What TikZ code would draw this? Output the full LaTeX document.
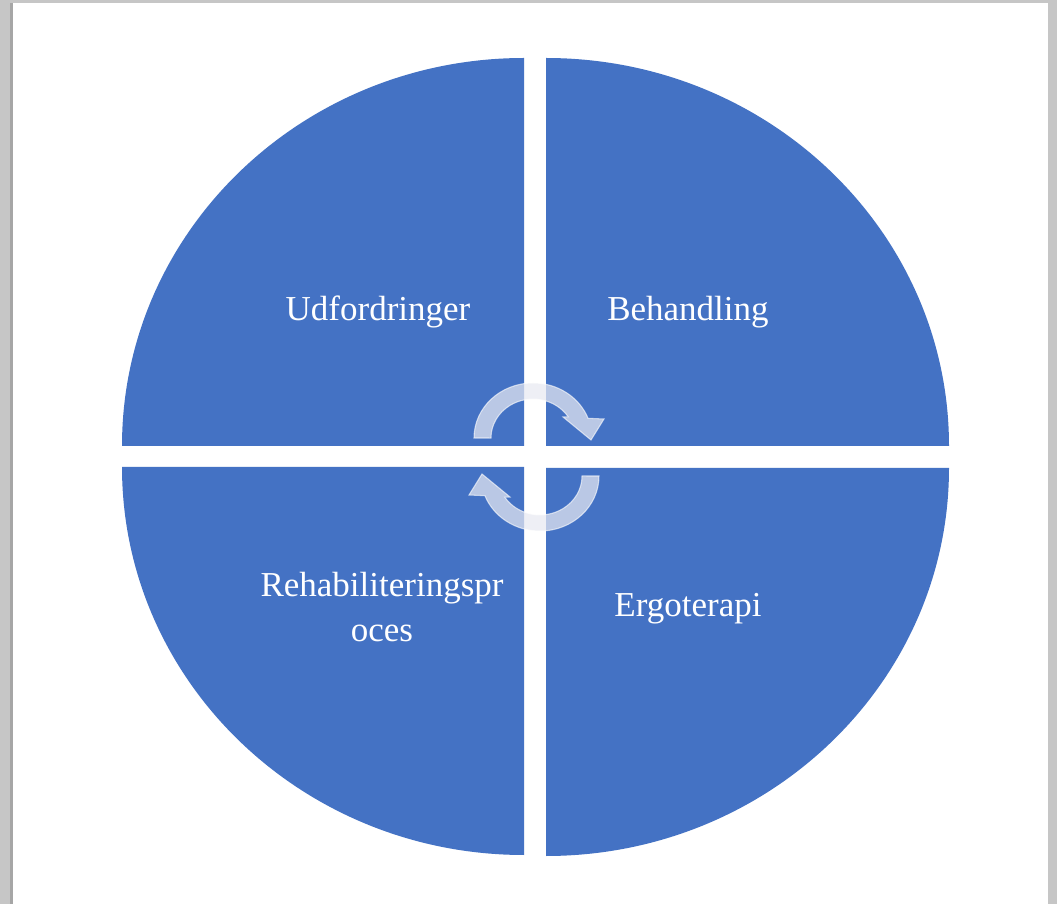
\documentclass[tikz,border=0pt]{standalone}
\usepackage{fontspec}
\setmainfont{Liberation Serif}
\definecolor{quadblue}{HTML}{4472C4}
\definecolor{arrowgray}{RGB}{232,234,242}
\definecolor{pagegray}{RGB}{198,198,198}
\tikzset{
  quad/.style={fill=quadblue},
  arrowfill/.style={fill=arrowgray,fill opacity=0.72,draw=white,draw opacity=0.6,line width=0.8pt},
  label/.style={text=white,align=center,inner sep=0pt,font=\fontsize{26.25}{34}\selectfont},
  cyclearrow/.pic={
    \path[arrowfill] (-59,0) arc[start angle=180,end angle=21,x radius=59,y radius=55]
      -- (71,19) -- (58,-2) -- (30,21) -- (35.2,21.2)
      arc[start angle=33,end angle=180,x radius=42,y radius=39] -- cycle;
  }
}
\begin{document}
\begin{tikzpicture}[x=0.75pt,y=0.75pt]
    \useasboundingbox (0,0) rectangle (1057,904);
    % page
    \fill[pagegray] (0,0) rectangle (1057,904);
    \fill[gray!70] (10,0) rectangle (13,901);
    \fill[white] (13,0) rectangle (1048,901);
    % four quarters
    \fill[quad] (524,458) -- ++(-402,0) arc[start angle=180,end angle=90,x radius=402,y radius=388] -- cycle;
    \fill[quad] (546,458) -- ++(403,0) arc[start angle=0,end angle=90,x radius=403,y radius=388] -- cycle;
    \fill[quad] (524,437) -- ++(-402,0) arc[start angle=180,end angle=270,x radius=402,y radius=388] -- cycle;
    \fill[quad] (546,436) -- ++(403,0) arc[start angle=0,end angle=-90,x radius=403,y radius=388] -- cycle;
    % labels
    \node[label] (udf) at (378,592) {Udfordringer};
    \node[label] (beh) at (688,592) {Behandling};
    \node[label] (reh) at (382,297) {Rehabiliteringspr\\oces};
    \node[label] (ergo) at (688,295) {Ergoterapi};
    % cycle arrows
    \pic (toparrow) at (533,466) {cyclearrow};
    \pic[rotate=180] (botarrow) at (540,428) {cyclearrow};
\end{tikzpicture}
\end{document}
